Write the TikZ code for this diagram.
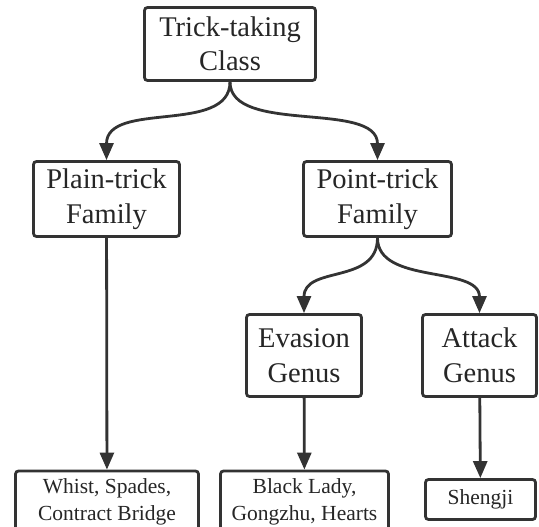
\documentclass[tikz,border=0pt]{standalone}
\usepackage{fontspec}
\setmainfont{Liberation Serif}
\usetikzlibrary{arrows.meta}
\definecolor{ink}{HTML}{333333}
\begin{document}
\begin{tikzpicture}[x=1pt,y=1pt,
  box/.style={draw=ink, line width=2.8pt, rounded corners=3pt, inner sep=0pt, align=center, text=black!85, fill=white},
  big/.style={box, font=\fontsize{28.5}{34.5}\selectfont},
  small/.style={box, font=\fontsize{21.5}{27}\selectfont},
  conn/.style={draw=ink, line width=2.8pt, -{Triangle[length=17pt,width=14pt]}}
]
\useasboundingbox (0,0) rectangle (539,-527);
\clip (0,0) rectangle (539,-527);
\node[big, minimum width=171pt, minimum height=73pt] (top) at (230,-44) {Trick-taking\\Class};
\node[big, minimum width=146pt, minimum height=75pt] (plain) at (106.5,-199) {Plain-trick\\Family};
\node[big, minimum width=148pt, minimum height=75pt] (point) at (377.5,-199) {Point-trick\\Family};
\node[big, minimum width=115pt, minimum height=82pt] (evasion) at (304,-355.5) {Evasion\\Genus};
\node[big, minimum width=114pt, minimum height=82pt] (attack) at (479.5,-355.5) {Attack\\Genus};
\node[small, minimum width=183pt, minimum height=62pt] (whist) at (107,-502) {Whist, Spades,\\Contract Bridge};
\node[small, minimum width=168pt, minimum height=62pt] (black) at (304.5,-502) {Black Lady,\\Gongzhu, Hearts};
\node[small, minimum width=110pt, minimum height=40pt] (shengji) at (480.5,-499.5) {Shengji};
\draw[conn] (top.south) .. controls ([yshift=-53pt]top.south) and ([yshift=60pt]plain.north) .. (plain.north);
\draw[conn] (top.south) .. controls ([yshift=-53pt]top.south) and ([yshift=60pt]point.north) .. (point.north);
\draw[conn] (point.south) .. controls ([yshift=-47pt]point.south) and ([yshift=48pt]evasion.north) .. (evasion.north);
\draw[conn] (point.south) .. controls ([yshift=-47pt]point.south) and ([yshift=48pt]attack.north) .. (attack.north);
\draw[conn] (plain) -- (whist);
\draw[conn] (evasion) -- (black);
\draw[conn] (attack) -- (shengji);
\end{tikzpicture}
\end{document}
